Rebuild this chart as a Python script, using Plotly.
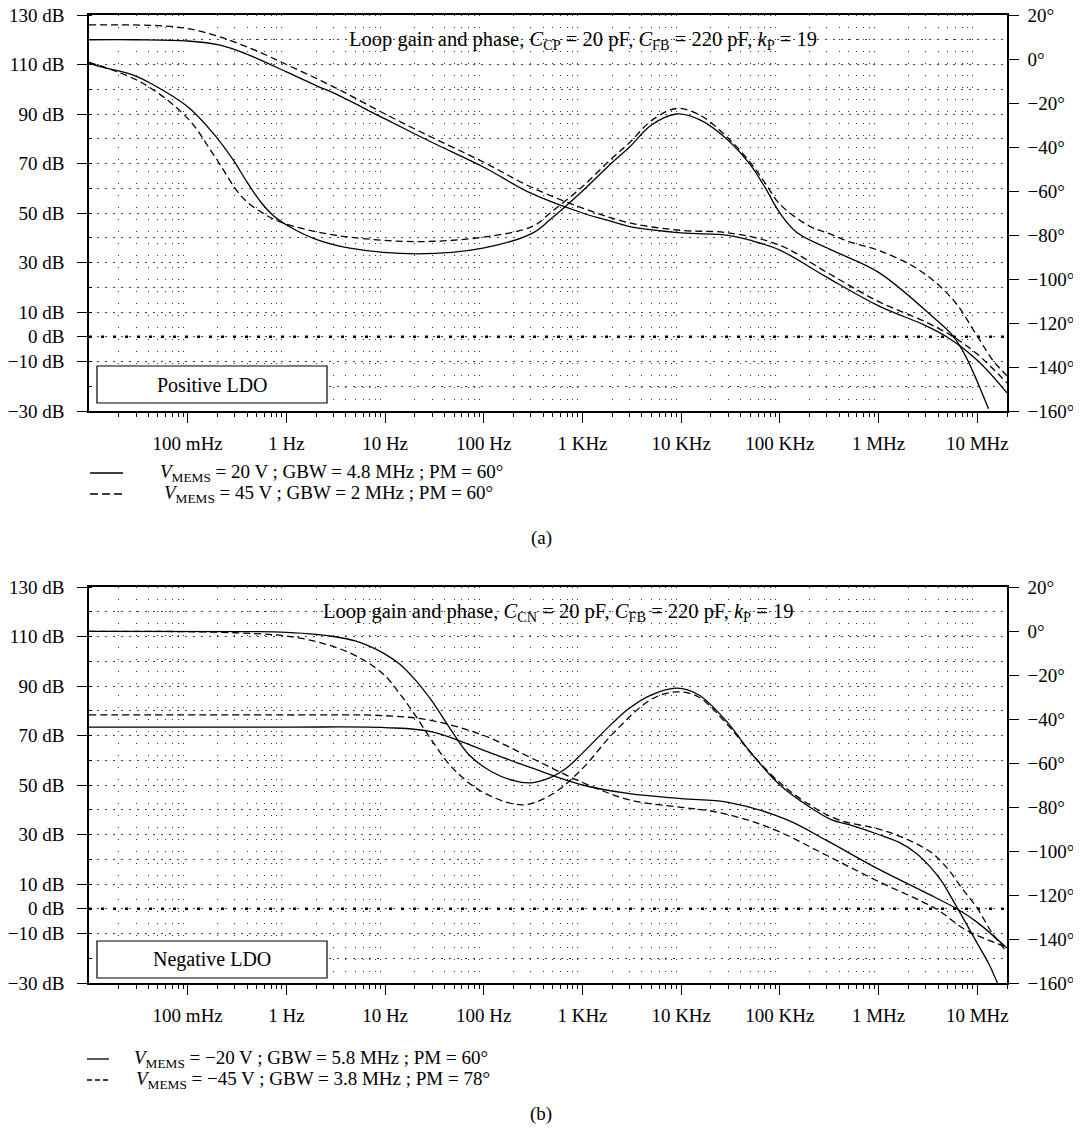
import plotly.graph_objects as go

# page is drawn with an 8px body margin -> figure is offset by 8px and kept inside the window
OFF = 8
W, H = 1081 - 2 * OFF, 1134 - 2 * OFF - 2

# ---------------- Panel (a): Positive LDO ----------------
fa_g20 = [0.01, 0.03, 0.1, 0.2, 0.3, 0.5, 1, 2, 3, 10, 30, 100, 300, 1e3, 2e3, 3e3, 1e4, 3e4, 5e4, 1e5, 3e5, 1e6, 3e6, 4.9e6, 1e7, 2e7]
ga_g20 = [120, 120, 119.5, 118, 116, 112.5, 107, 101.5, 98.5, 88, 78.5, 68.5, 58, 50, 46.5, 44.5, 42, 41, 39, 35, 24, 12.5, 4.5, 0, -9.5, -22.7]

fa_g45 = [0.01, 0.05, 0.1, 0.2, 0.3, 0.5, 1, 3, 10, 30, 100, 300, 1e3, 3e3, 1e4, 3e4, 1e5, 3e5, 1e6, 3e6, 5.7e6, 1e7, 2e7]
ga_g45 = [126, 125.7, 124.5, 121.5, 119, 115.5, 110, 101, 90, 80.5, 70.5, 60.5, 52, 46, 43, 42, 37, 26, 14.2, 6, 0, -7, -18.7]

fa_p20 = [0.01, 0.013, 0.028, 0.042, 0.1, 0.18, 0.29, 0.4, 0.55, 0.75, 1.1, 2, 4.4, 21, 98, 315, 470, 1e3, 2e3, 3e3, 5e3, 9e3, 15.5e3, 3e4, 5e4, 7e4, 1e5, 1.5e5, 3.4e5, 1e6, 3.5e6, 5.7e6, 7.7e6, 1.3e7]
pa_p20 = [-1.8, -3.5, -7.3, -11, -21.7, -33.6, -46, -56, -65, -71.5, -76.5, -82, -86, -88.6, -86, -79, -73, -60, -47, -40, -30, -25, -27.7, -37, -48, -58, -70, -79, -87, -97, -117, -126, -135.5, -159]

fa_p45 = [0.01, 0.035, 0.1, 0.18, 0.36, 0.6, 0.92, 2, 4.4, 21, 98, 315, 470, 1e3, 2e3, 3e3, 5e3, 9e3, 15.5e3, 3e4, 5e4, 7e4, 1e5, 2e5, 3e5, 5e5, 1e6, 2.6e6, 5.7e6, 1e7, 1.44e7, 2e7]
pa_p45 = [-1.5, -11, -27, -43, -63, -70.5, -74.5, -78.5, -81, -83, -81, -76, -70, -58, -45, -38, -28, -22.5, -25.5, -36, -47, -56, -66, -76, -79, -83, -87, -96, -109.5, -126, -137, -144]

# ---------------- Panel (b): Negative LDO ----------------
fb_g20 = [0.01, 1, 10, 30, 100, 300, 1e3, 3e3, 1e4, 3e4, 1.17e5, 3e5, 1e6, 3e6, 6.2e6, 1e7, 2e7]
gb_g20 = [73.4, 73.4, 73.2, 71.5, 64, 57, 50, 46.5, 44.5, 43, 36, 27.5, 16, 6.5, 0, -5.5, -15.9]

fb_g45 = [0.01, 1, 10, 30, 100, 300, 1e3, 3e3, 1e4, 2e4, 4.6e4, 1e5, 3e5, 1e6, 3.8e6, 7.7e6, 2e7]
gb_g45 = [78.3, 78.3, 78, 76, 70, 61, 51, 44, 41, 39.5, 36, 31, 21.5, 11, 0, -8.6, -15.5]

fb_p20 = [0.01, 0.5, 1, 2, 3, 5, 7, 10, 14, 20, 30, 45, 70, 120, 200, 300, 450, 700, 1e3, 2e3, 3e3, 5e3, 9e3, 1.5e4, 3e4, 5e4, 1e5, 2e5, 3.4e5, 5e5, 1e6, 1.6e6, 2.4e6, 3.3e6, 4.4e6, 5.6e6, 7.5e6, 1e7, 1.3e7, 1.6e7]
pb_p20 = [-0.2, -0.3, -0.6, -1.5, -2.5, -4.5, -7, -10.5, -15, -22, -32, -44, -56, -64, -68, -69, -67, -62, -55.5, -42, -35, -29, -26, -29, -42, -55, -70, -80, -86, -88, -92.5, -96, -101, -107, -114, -122, -132, -142, -151, -160]

fb_p45 = [0.01, 0.3, 1.37, 4.4, 9.5, 14, 20, 30, 50, 100, 250, 500, 1e3, 2e3, 5e3, 9e3, 1.5e4, 3e4, 5e4, 1e5, 2e5, 4e5, 1e6, 2e6, 3.5e6, 5e6, 7e6, 1e7, 1.4e7, 2e7]
pb_p45 = [-0.2, -0.8, -3.2, -10, -19.4, -28.4, -38, -50, -63, -73.5, -79, -74, -62.5, -47, -31, -27.7, -30, -43, -55, -69, -79, -86, -90, -95, -101, -108, -117, -126, -137, -146]

# ---------------- Axis labels / text ----------------
x_tickvals = [0.1, 1, 10, 100, 1e3, 1e4, 1e5, 1e6, 1e7]
x_ticktext = ["100 mHz", "1 Hz", "10 Hz", "100 Hz", "1 KHz", "10 KHz", "100 KHz", "1 MHz", "10 MHz"]
db_tickvals = [130, 110, 90, 70, 50, 30, 10, 0, -10, -30]
db_ticktext = [("\u2212" + str(-v) if v < 0 else str(v)) + " dB" for v in db_tickvals]
deg_tickvals = [20, 0, -20, -40, -60, -80, -100, -120, -140, -160]
deg_ticktext = [("\u2212" + str(-v) if v < 0 else str(v)) + "\u00b0" for v in deg_tickvals]

minor_x = [k * 10.0 ** d for d in range(-2, 8) for k in range(2, 10) if 0.01 <= k * 10.0 ** d <= 2e7]

title_a = "Loop gain and phase, <i>C</i><sub>CP</sub> = 20 pF, <i>C</i><sub>FB</sub> = 220 pF, <i>k</i><sub>P</sub> = 19"
title_b = "Loop gain and phase, <i>C</i><sub>CN</sub> = 20 pF, <i>C</i><sub>FB</sub> = 220 pF, <i>k</i><sub>P</sub> = 19"
leg_a = ["<i>V</i><sub>MEMS</sub> = 20 V ; GBW = 4.8 MHz ; PM = 60\u00b0",
         "<i>V</i><sub>MEMS</sub> = 45 V ; GBW = 2 MHz ; PM = 60\u00b0"]
leg_b = ["<i>V</i><sub>MEMS</sub> = \u221220 V ; GBW = 5.8 MHz ; PM = 60\u00b0",
         "<i>V</i><sub>MEMS</sub> = \u221245 V ; GBW = 3.8 MHz ; PM = 78\u00b0"]

FONT = "Liberation Serif"
FS = 19
DASH = "7px,4px"

def px(x):
    return (x - OFF) / W

def py(y):
    return 1 - (y - OFF) / H

fig = go.Figure()

def add_line(f, v, xa, ya, dash):
    fig.add_trace(go.Scatter(
        x=f, y=v, xaxis=xa, yaxis=ya, mode="lines",
        line=dict(color="black", width=1.3, dash=dash, shape="spline", smoothing=1.0),
        showlegend=False, hoverinfo="skip"))

# panel a
add_line(fa_g20, ga_g20, "x", "y", "solid")
add_line(fa_g45, ga_g45, "x", "y", DASH)
add_line(fa_p20, pa_p20, "x", "y2", "solid")
add_line(fa_p45, pa_p45, "x", "y2", DASH)
# panel b
add_line(fb_g20, gb_g20, "x2", "y3", "solid")
add_line(fb_g45, gb_g45, "x2", "y3", DASH)
add_line(fb_p20, pb_p20, "x2", "y4", "solid")
add_line(fb_p45, pb_p45, "x2", "y4", DASH)

xdom = [px(89), px(1007)]
dom_a = [py(411), py(15)]
dom_b = [py(983), py(587)]

def xaxis_cfg(anchor):
    return dict(
        type="log", range=[-2, 7.30103], domain=xdom, anchor=anchor, automargin=False,
        tickmode="array", tickvals=x_tickvals, ticktext=x_ticktext,
        ticks="outside", ticklen=10, tickwidth=1.2, tickcolor="black",
        showline=True, linecolor="black", linewidth=1.5, mirror=True,
        showgrid=False, zeroline=False, ticklabelstandoff=4, ticklabeloverflow="allow",
        tickfont=dict(family=FONT, size=FS, color="black"),
        minor=dict(tickmode="array", tickvals=minor_x, ticks="outside", ticklen=4,
                   tickwidth=1, tickcolor="black", showgrid=True,
                   gridcolor="#333333", gridwidth=1, griddash="1px,11px"),
    )

def ydb_cfg(domain, anchor):
    return dict(
        range=[-30, 130], domain=domain, anchor=anchor, automargin=False,
        tickmode="array", tickvals=db_tickvals, ticktext=db_ticktext,
        ticks="outside", ticklen=10, tickwidth=1.2, tickcolor="black",
        showline=True, linecolor="black", linewidth=1.5,
        showgrid=True, gridcolor="#444444", gridwidth=1, griddash="2px,6px",
        zeroline=False, ticklabelstandoff=9, ticklabeloverflow="allow",
        tickfont=dict(family=FONT, size=FS, color="black"),
        minor=dict(tickmode="linear", tick0=0, dtick=10, ticks="inside", ticklen=3,
                   tickcolor="black", showgrid=True, gridcolor="#444444",
                   gridwidth=1, griddash="2px,6px"),
    )

def ydeg_cfg(domain, anchor, overlay):
    return dict(
        range=[-160, 20], domain=domain, anchor=anchor, overlaying=overlay, side="right",
        automargin=False,
        tickmode="array", tickvals=deg_tickvals, ticktext=deg_ticktext,
        ticks="outside", ticklen=10, tickwidth=1.2, tickcolor="black",
        showline=True, linecolor="black", linewidth=1.5,
        showgrid=False, zeroline=False, ticklabelstandoff=5, ticklabeloverflow="allow",
        tickfont=dict(family=FONT, size=FS, color="black"),
    )

fig.update_layout(
    width=W, height=H, margin=dict(l=0, r=0, t=0, b=0, autoexpand=False),
    paper_bgcolor="white", plot_bgcolor="white",
    font=dict(family=FONT, size=FS, color="black"),
    xaxis=xaxis_cfg("y"),
    yaxis=ydb_cfg(dom_a, "x"),
    yaxis2=ydeg_cfg(dom_a, "x", "y"),
    xaxis2=xaxis_cfg("y3"),
    yaxis3=ydb_cfg(dom_b, "x2"),
    yaxis4=ydeg_cfg(dom_b, "x2", "y3"),
)

shapes = []
annos = []
# 0 dB heavy dotted lines
for xr, yr in [("x domain", "y"), ("x2 domain", "y3")]:
    shapes.append(dict(type="line", xref=xr, yref=yr, x0=0, x1=1, y0=0, y1=0,
                       line=dict(color="black", width=2.5, dash="3px,9px"), layer="above"))

# labelled boxes
for (y0, y1, txt) in [(366, 403, "Positive LDO"), (941, 978, "Negative LDO")]:
    shapes.append(dict(type="rect", xref="paper", yref="paper", x0=px(97), x1=px(327),
                       y0=py(y1), y1=py(y0), line=dict(color="black", width=1.2),
                       fillcolor="white", layer="above"))
    annos.append(dict(x=px(212), y=py((y0 + y1) / 2), xref="paper", yref="paper", text=txt,
                      showarrow=False, xanchor="center", yanchor="middle",
                      font=dict(family=FONT, size=20, color="black")))

# titles
annos.append(dict(x=px(583), y=py(40), xref="paper", yref="paper", text=title_a, showarrow=False,
                  xanchor="center", yanchor="middle", font=dict(family=FONT, size=20.5, color="black")))
annos.append(dict(x=px(558), y=py(612), xref="paper", yref="paper", text=title_b, showarrow=False,
                  xanchor="center", yanchor="middle", font=dict(family=FONT, size=20.5, color="black")))

# legends
for (ly, dash, tx, txt) in [(473, "solid", 158, leg_a[0]), (494, "8px,4px", 162, leg_a[1])]:
    shapes.append(dict(type="line", xref="paper", yref="paper", x0=px(90), x1=px(123),
                       y0=py(ly), y1=py(ly), line=dict(color="black", width=1.3, dash=dash)))
    annos.append(dict(x=px(tx), y=py(ly), xref="paper", yref="paper", text=txt, showarrow=False,
                      xanchor="left", yanchor="middle", font=dict(family=FONT, size=19, color="black")))
for (ly, dash, tx, txt) in [(1059, "solid", 132, leg_b[0]), (1080, "5px,3px", 134, leg_b[1])]:
    shapes.append(dict(type="line", xref="paper", yref="paper", x0=px(87), x1=px(109),
                       y0=py(ly), y1=py(ly), line=dict(color="black", width=1.3, dash=dash)))
    annos.append(dict(x=px(tx), y=py(ly), xref="paper", yref="paper", text=txt, showarrow=False,
                      xanchor="left", yanchor="middle", font=dict(family=FONT, size=19, color="black")))

annos.append(dict(x=px(541), y=py(538), xref="paper", yref="paper", text="(a)", showarrow=False,
                  xanchor="center", yanchor="middle", font=dict(family=FONT, size=FS, color="black")))
annos.append(dict(x=px(541), y=py(1114), xref="paper", yref="paper", text="(b)", showarrow=False,
                  xanchor="center", yanchor="middle", font=dict(family=FONT, size=FS, color="black")))

fig.update_layout(shapes=shapes, annotations=annos)
fig.write_html("out.html")
